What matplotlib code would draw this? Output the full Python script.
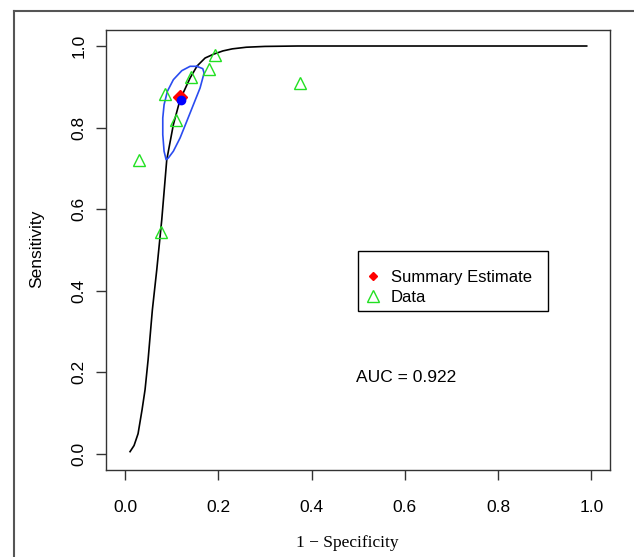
import matplotlib
matplotlib.use('Agg')
import matplotlib.pyplot as plt
from matplotlib.lines import Line2D
from matplotlib.patches import Rectangle

plt.rcParams['font.family'] = 'Liberation Sans'

# SROC curve
curve_fpr = [0.0107, 0.0193, 0.0279, 0.0365, 0.0429, 0.0494, 0.0558, 0.0586, 0.068,
             0.0787, 0.0894, 0.1036, 0.118, 0.1395, 0.1545, 0.1717, 0.19, 0.21,
             0.23, 0.26, 0.30, 0.37, 0.5, 0.7, 0.99]
curve_sens = [0.005, 0.020, 0.049, 0.108, 0.157, 0.230, 0.316, 0.353, 0.451,
              0.5735, 0.7206, 0.8071, 0.8684, 0.9216, 0.951, 0.9706, 0.980, 0.988,
              0.993, 0.997, 0.999, 1.0, 1.0, 1.0, 1.0]

# confidence region outline
region_fpr = [0.1539, 0.1667, 0.1695, 0.1609, 0.1466, 0.1324, 0.1180, 0.1036, 0.0929,
              0.0880, 0.0837, 0.0809, 0.0809, 0.0837, 0.0908, 0.1036, 0.1217, 0.1395]
region_sens = [0.9502, 0.9444, 0.9338, 0.8971, 0.8561, 0.8154, 0.7745, 0.7419, 0.7255,
               0.7213, 0.7419, 0.7826, 0.8235, 0.8561, 0.8890, 0.9174, 0.9395, 0.9502]

# study data
data_fpr = [0.193, 0.181, 0.1416, 0.0866, 0.3755, 0.110, 0.030, 0.0773]
data_sens = [0.978, 0.944, 0.924, 0.883, 0.9085, 0.8186, 0.7206, 0.544]

summary_fpr, summary_sens = [0.118], [0.876]
center_fpr, center_sens = [0.1195], [0.868]

ticks = [0.0, 0.2, 0.4, 0.6, 0.8, 1.0]
tick_labels = ["0.0", "0.2", "0.4", "0.6", "0.8", "1.0"]
auc_text = "AUC = 0.922"

W, H = 634, 557
fig = plt.figure(figsize=(W / 100, H / 100), dpi=100)
ax = fig.add_axes([106.4 / W, 1 - 470 / H, 503.6 / W, 440.3 / H])
ax.set_xlim(-0.04, 1.04)
ax.set_ylim(-0.04, 1.04)

ax.plot(curve_fpr, curve_sens, color='black', lw=1.2, zorder=2)
ax.plot(region_fpr + region_fpr[:1], region_sens + region_sens[:1],
        color='#2a4cf0', lw=1.2, zorder=3)
ax.plot(data_fpr, data_sens, ls='none', marker='^', ms=8, mfc='none',
        mec='#22e022', mew=1, zorder=4)
ax.plot(summary_fpr, summary_sens, ls='none', marker='D', ms=7.5, color='red', zorder=5)
ax.plot(center_fpr, center_sens, ls='none', marker='o', ms=6, color='blue', zorder=6)

for s in ax.spines.values():
    s.set_color('#333333')
    s.set_linewidth(1)

ax.set_xticks(ticks)
ax.set_xticklabels(tick_labels)
ax.set_yticks(ticks)
ax.set_yticklabels(tick_labels, rotation=90, va='center')
ax.tick_params(direction='out', length=7.5, width=1, color='#333333', labelsize=12.5)
ax.tick_params(axis='x', pad=14)
ax.tick_params(axis='y', pad=7)

# legend
ax.add_patch(Rectangle((0.4996, 0.3611), 0.3773, 0.1363, transform=ax.transAxes,
                       fill=False, edgecolor='black', lw=1, zorder=6))
handles = [Line2D([], [], ls='none', marker='D', ms=4.5, color='red'),
           Line2D([], [], ls='none', marker='^', ms=8, mfc='none', mec='#22e022', mew=1)]
ax.legend(handles, ['Summary Estimate', 'Data'], loc='center left',
          bbox_to_anchor=(0.5129, 0.4156), frameon=False, borderpad=0,
          borderaxespad=0, handlelength=1.0, handletextpad=0.58,
          labelspacing=0.3, fontsize=12)

ax.text(0.4956, 0.2112, auc_text, transform=ax.transAxes, ha='left', va='center',
        fontsize=12.5)

fig.text(37 / W, 1 - 249 / H, 'Sensitivity', rotation=90, ha='center', va='center',
         fontsize=12.5)
fig.text(347 / W, 1 - 543 / H, '1 \u2212 Specificity', family='Liberation Serif',
         ha='center', va='center', fontsize=12.5)

# outer frame
fig.add_artist(Line2D([14 / W, 14 / W], [0, 1 - 11 / H], color='#555555', lw=1.5,
                      transform=fig.transFigure))
fig.add_artist(Line2D([14 / W, 1], [1 - 11 / H, 1 - 11 / H], color='#555555', lw=1.5,
                      transform=fig.transFigure))

fig.savefig('out.png', dpi=100)
